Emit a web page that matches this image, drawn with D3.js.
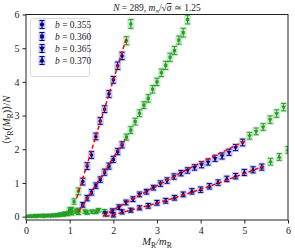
<!DOCTYPE html>
<html>
<head>
<meta charset="utf-8">
<script src="https://cdn.jsdelivr.net/npm/d3@7"></script>
<style>
  body { margin: 0; background: #fff; }
  svg text { font-family: "Liberation Serif", "DejaVu Serif", serif; fill: #222; }
</style>
</head>
<body>
<div id="chart"></div>
<script>

// legend labels (b values)
const bLabels = ['0.355', '0.360', '0.365', '0.370'];

// b = 0.355
const xA = [0.1,0.2,0.3,0.4,0.5,0.6,0.7,0.8,0.9,1.0,1.1,1.2,1.3,1.4,1.5,1.6,1.7,1.8,1.9,2.0,2.1,2.2,2.3,2.4];
const yA = [0.02,0.02,0.03,0.03,0.04,0.04,0.05,0.07,0.10,0.20,0.45,0.75,1.04,1.50,1.83,2.38,2.84,3.19,3.64,4.06,4.48,4.77,5.22,5.72];
const eA = [0.02,0.02,0.02,0.02,0.02,0.02,0.03,0.03,0.04,0.06,0.08,0.10,0.10,0.10,0.10,0.10,0.10,0.10,0.10,0.10,0.11,0.11,0.12,0.13];
const fitRangeA = [1.25, 2.25];
const fitXA = [1.16, 2.30];
const fitYA = [0.55, 5.30];

// b = 0.360
const xB = [0.05,0.15,0.25,0.35,0.45,0.55,0.65,0.75,0.85,0.95,1.05,1.15,1.3,1.4,1.5,1.6,1.7,1.8,1.9,2.0,2.1,2.2,2.3,2.4,2.5,2.6,2.7,2.8,2.9,3.0,3.1,3.2,3.3,3.4,3.5,3.6,3.7];
const yB = [0.01,0.01,0.02,0.02,0.02,0.03,0.03,0.04,0.05,0.07,0.10,0.16,0.35,0.55,0.72,0.92,1.10,1.32,1.50,1.70,1.93,2.13,2.36,2.57,2.82,3.07,3.31,3.51,3.78,4.00,4.27,4.49,4.73,4.93,5.24,5.46,5.85];
const eB = [0.02,0.02,0.02,0.02,0.02,0.02,0.02,0.03,0.03,0.04,0.05,0.06,0.07,0.08,0.08,0.08,0.08,0.09,0.09,0.09,0.09,0.09,0.09,0.10,0.10,0.10,0.10,0.11,0.11,0.11,0.11,0.12,0.12,0.12,0.12,0.13,0.13];
const fitRangeB = [1.25, 2.25];
const fitXB = [1.21, 2.27];
const fitYB = [0.15, 2.30];

// b = 0.365
const xC = [0.25,0.41,0.56,0.72,0.88,1.04,1.19,1.35,1.51,1.66,1.82,1.98,2.13,2.29,2.45,2.60,2.76,2.92,3.08,3.23,3.39,3.55,3.70,3.86,4.02,4.17,4.33,4.49,4.65,4.80,4.96,5.12,5.27,5.43,5.59,5.74,5.90];
const yC = [0.02,0.02,0.03,0.05,0.08,0.22,0.20,0.15,0.15,0.19,0.08,0.17,0.28,0.42,0.52,0.66,0.74,0.86,0.98,1.07,1.19,1.29,1.37,1.46,1.54,1.62,1.73,1.80,1.91,2.05,2.20,2.40,2.53,2.66,2.88,3.06,3.25];
const eC = [0.02,0.02,0.02,0.03,0.03,0.05,0.05,0.05,0.05,0.05,0.06,0.06,0.07,0.07,0.07,0.07,0.07,0.07,0.08,0.08,0.08,0.08,0.08,0.08,0.09,0.09,0.09,0.09,0.09,0.09,0.10,0.10,0.10,0.10,0.11,0.11,0.11];
const fitRangeC = [1.8, 5.0];
const fitXC = [1.77, 3.40, 5.05];
const fitYC = [0.03, 1.20, 2.27];

// b = 0.370
const xD = [0.2,0.4,0.6,0.8,1.0,1.2,1.4,1.6,1.8,2.0,2.2,2.4,2.6,2.8,3.0,3.2,3.4,3.6,3.8,4.0,4.2,4.4,4.6,4.8,5.0,5.2,5.4,5.6,5.8,6.0];
const yD = [0.02,0.03,0.04,0.07,0.12,0.10,0.12,0.14,0.16,0.05,0.14,0.19,0.26,0.32,0.41,0.47,0.56,0.66,0.75,0.80,0.90,1.01,1.12,1.20,1.31,1.39,1.47,1.63,1.77,1.98];
const eD = [0.02,0.02,0.02,0.03,0.04,0.04,0.05,0.05,0.05,0.06,0.06,0.06,0.06,0.07,0.07,0.07,0.07,0.07,0.08,0.08,0.08,0.08,0.08,0.08,0.09,0.09,0.09,0.10,0.10,0.10];
const fitRangeD = [1.9, 5.5];
const fitXD = [1.83, 3.60, 5.45];
const fitYD = [0.0, 0.64, 1.50];

const xTicks = [0, 1, 2, 3, 4, 5, 6];
const yTicks = [0, 1, 2, 3, 4, 5, 6];

const W = 295, H = 251;
const margin = { top: 14.5, right: 7, bottom: 31, left: 26 };
const blue = '#00008b', green = '#249f24';

const series = [
  { x: xA, y: yA, e: eA, range: fitRangeA, fx: fitXA, fy: fitYA, sym: d3.symbolCircle, rot: 0 },
  { x: xB, y: yB, e: eB, range: fitRangeB, fx: fitXB, fy: fitYB, sym: d3.symbolSquare, rot: 0 },
  { x: xC, y: yC, e: eC, range: fitRangeC, fx: fitXC, fy: fitYC, sym: d3.symbolTriangle, rot: 180 },
  { x: xD, y: yD, e: eD, range: fitRangeD, fx: fitXD, fy: fitYD, sym: d3.symbolTriangle, rot: 0 }
];

const svg = d3.select('#chart').append('svg')
  .attr('width', W)
  .attr('height', H);

const x = d3.scaleLinear().domain([0, 6]).range([margin.left, W - margin.right]);
const y = d3.scaleLinear().domain([-0.1, 6]).range([H - margin.bottom, margin.top]);

svg.append('clipPath').attr('id', 'clip')
  .append('rect')
  .attr('x', x(0)).attr('y', y(6))
  .attr('width', x(6) - x(0)).attr('height', y(-0.1) - y(6));

// axes
const xAxis = svg.append('g')
  .attr('transform', 'translate(0,' + y(-0.1) + ')')
  .call(d3.axisBottom(x).tickValues(xTicks).tickFormat(d3.format('d')).tickSize(3.5).tickPadding(3));
const yAxis = svg.append('g')
  .attr('transform', 'translate(' + x(0) + ',0)')
  .call(d3.axisLeft(y).tickValues(yTicks).tickFormat(d3.format('d')).tickSize(3.5).tickPadding(3));
[xAxis, yAxis].forEach(a => {
  a.select('.domain').remove();
  a.selectAll('text').style('font-size', '10px').attr('fill', '#222');
  a.selectAll('line').attr('stroke', '#222');
});

const plot = svg.append('g').attr('clip-path', 'url(#clip)');

const drawPoint = (g, cx, cy, ey, col, sym, rot) => {
  const top = y(cy + ey), bot = y(cy - ey);
  const px = x(cx);
  g.append('rect')
    .attr('x', px - 3.5).attr('y', top - 1.5)
    .attr('width', 7).attr('height', bot - top + 3)
    .attr('fill', col).attr('fill-opacity', 0.22);
  g.append('line')
    .attr('x1', px).attr('x2', px).attr('y1', top).attr('y2', bot)
    .attr('stroke', col).attr('stroke-width', 1);
  [top, bot].forEach(t => {
    g.append('line')
      .attr('x1', px - 2.5).attr('x2', px + 2.5).attr('y1', t).attr('y2', t)
      .attr('stroke', col).attr('stroke-width', 1);
  });
  g.append('path')
    .attr('d', d3.symbol().type(sym).size(10)())
    .attr('transform', 'translate(' + px + ',' + y(cy) + ') rotate(' + rot + ')')
    .attr('fill', col);
};

// green points first, then blue
series.forEach(s => {
  s.x.forEach((xv, i) => {
    const inFit = xv >= s.range[0] && xv <= s.range[1];
    if (!inFit) drawPoint(plot, xv, s.y[i], s.e[i], green, s.sym, s.rot);
  });
});
series.forEach(s => {
  s.x.forEach((xv, i) => {
    const inFit = xv >= s.range[0] && xv <= s.range[1];
    if (inFit) drawPoint(plot, xv, s.y[i], s.e[i], blue, s.sym, s.rot);
  });
});

// fit lines
const line = d3.line()
  .x(d => x(d[0]))
  .y(d => y(d[1]))
  .curve(d3.curveNatural);
series.forEach(s => {
  plot.append('path')
    .datum(s.fx.map((v, i) => [v, s.fy[i]]))
    .attr('d', line)
    .attr('fill', 'none')
    .attr('stroke', 'red')
    .attr('stroke-width', 1.5)
    .attr('stroke-dasharray', '4,2.5');
});

// frame
svg.append('rect')
  .attr('x', x(0)).attr('y', y(6))
  .attr('width', x(6) - x(0)).attr('height', y(-0.1) - y(6))
  .attr('fill', 'none').attr('stroke', '#222').attr('stroke-width', 1);

// legend
const leg = svg.append('g');
leg.append('rect')
  .attr('x', 30.5).attr('y', 18.5).attr('width', 59).attr('height', 58)
  .attr('rx', 2).attr('fill', '#fff').attr('fill-opacity', 0.8)
  .attr('stroke', '#d0d0d0').attr('stroke-width', 0.8);
bLabels.forEach((b, i) => {
  const cy = 24.5 + i * 12;
  const g = leg.append('g');
  g.append('rect').attr('x', 38.5).attr('y', cy - 5).attr('width', 7).attr('height', 10)
    .attr('fill', blue).attr('fill-opacity', 0.22);
  g.append('line').attr('x1', 42).attr('x2', 42).attr('y1', cy - 4).attr('y2', cy + 4)
    .attr('stroke', blue);
  [cy - 4, cy + 4].forEach(t => g.append('line')
    .attr('x1', 39.5).attr('x2', 44.5).attr('y1', t).attr('y2', t).attr('stroke', blue));
  g.append('path')
    .attr('d', d3.symbol().type(series[i].sym).size(14)())
    .attr('transform', 'translate(42,' + cy + ') rotate(' + series[i].rot + ')')
    .attr('fill', blue);
  const t = g.append('text').attr('x', 55).attr('y', cy + 3.5).style('font-size', '9.5px');
  t.append('tspan').attr('font-style', 'italic').text('b');
  t.append('tspan').text(' = ' + b);
});

// title
const title = svg.append('text')
  .attr('x', (x(0) + x(6)) / 2).attr('y', 11)
  .attr('text-anchor', 'middle').style('font-size', '9.5px');
title.append('tspan').attr('font-style', 'italic').text('N');
title.append('tspan').text(' = 289, ');
title.append('tspan').attr('font-style', 'italic').text('m');
title.append('tspan').attr('font-style', 'italic').attr('dy', 2).style('font-size', '7px').text('π');
title.append('tspan').attr('dy', -2).text('/√');
title.append('tspan').attr('font-style', 'italic').attr('text-decoration', 'overline').text('σ');
title.append('tspan').text(' ≃ 1.25');

// x label
const xl = svg.append('text')
  .attr('x', (x(0) + x(6)) / 2).attr('y', 245)
  .attr('text-anchor', 'middle').style('font-size', '10.5px');
xl.append('tspan').attr('font-style', 'italic').text('M');
xl.append('tspan').attr('dy', 2.5).style('font-size', '7.5px').text('R');
xl.append('tspan').attr('dy', -2.5).attr('font-style', 'italic').text('/m');
xl.append('tspan').attr('dy', 2.5).style('font-size', '7.5px').text('R');

// y label
const yl = svg.append('text')
  .attr('transform', 'translate(10,' + 120 + ') rotate(-90)')
  .attr('text-anchor', 'middle').style('font-size', '10.5px');
yl.append('tspan').text('⟨');
yl.append('tspan').attr('font-style', 'italic').text('ν');
yl.append('tspan').attr('dy', 2.5).style('font-size', '7.5px').text('R');
yl.append('tspan').attr('dy', -2.5).text('(');
yl.append('tspan').attr('font-style', 'italic').text('M');
yl.append('tspan').attr('dy', 2.5).style('font-size', '7.5px').text('R');
yl.append('tspan').attr('dy', -2.5).text(')⟩/');
yl.append('tspan').attr('font-style', 'italic').text('N');

</script>
</body>
</html>
